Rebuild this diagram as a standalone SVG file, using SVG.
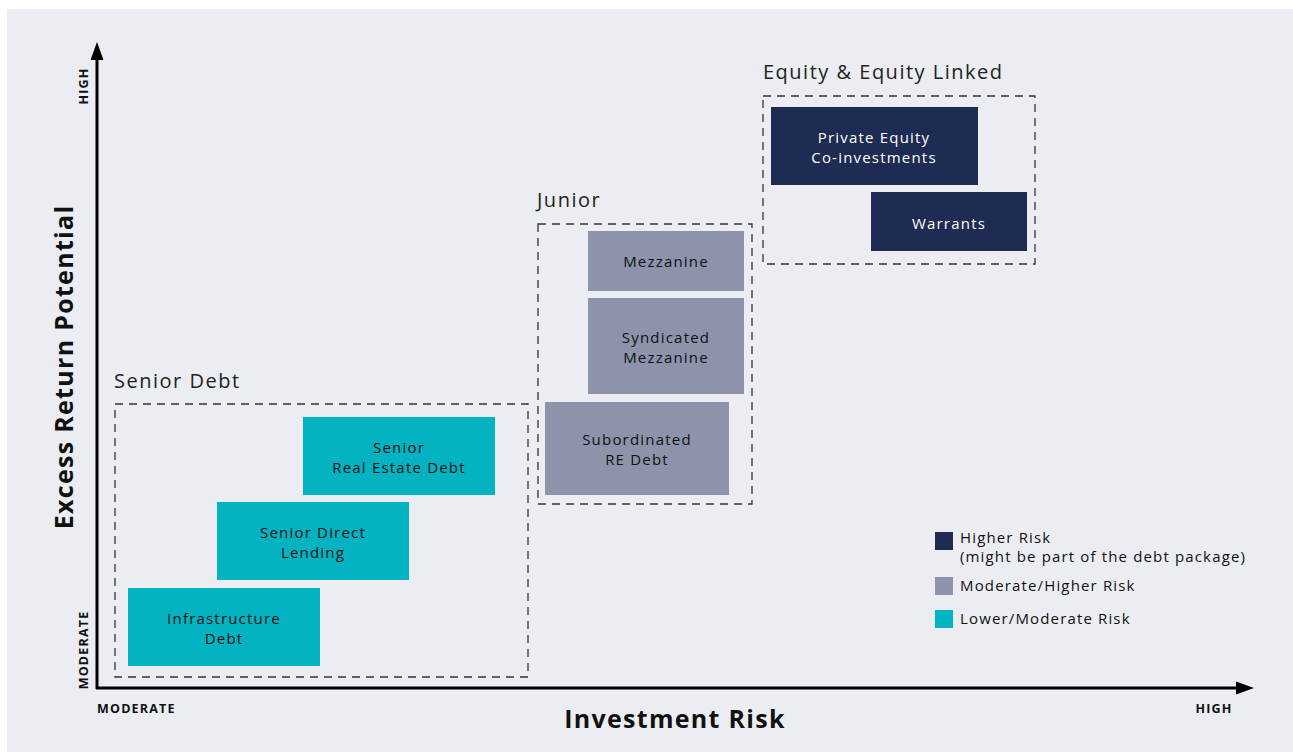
<svg xmlns="http://www.w3.org/2000/svg" width="1293" height="752" viewBox="0 0 1293 752">
<defs>
<style>
.bg{fill:#ECEDF2}
.grp{fill:none;stroke:#333;stroke-width:1.3;stroke-dasharray:8 6}
.glabel{font-family:"Open Sans",sans-serif;font-size:20px;fill:#222;font-weight:400;letter-spacing:1.5px}
.teal{fill:#03B3C2}
.grey{fill:#8D93AA}
.navy{fill:#1E2B52}
.t{font-family:"Open Sans",sans-serif;font-size:15px;fill:#111;text-anchor:middle;letter-spacing:1.2px}
.tw{font-family:"Open Sans",sans-serif;font-size:15px;fill:#fff;text-anchor:middle;letter-spacing:1.2px}
.ax{stroke:#000;stroke-width:3;fill:none}
.axl{font-family:"Open Sans",sans-serif;font-size:12.5px;font-weight:700;fill:#111;letter-spacing:1.2px}
.title{font-family:"Open Sans",sans-serif;font-size:25px;font-weight:700;fill:#111;text-anchor:middle;letter-spacing:1.3px}
.lg{font-family:"Open Sans",sans-serif;font-size:15px;fill:#111;letter-spacing:1.15px}
</style>
</defs>
<rect x="0" y="0" width="1293" height="752" fill="#fff"/>
<rect class="bg" x="7" y="9" width="1286" height="743"/>

<g id="connectors">
<line class="ax" x1="97" y1="689" x2="97" y2="58"/>
<polygon points="97,42 90.5,60 103.5,60" fill="#000"/>
<line class="ax" x1="96" y1="688" x2="1237" y2="688"/>
<polygon points="1254,688 1236,681.5 1236,694.5" fill="#000"/>
</g>

<g id="axis-labels">
<text class="axl" transform="translate(88,86) rotate(-90)" text-anchor="middle">HIGH</text>
<text class="axl" transform="translate(88,650) rotate(-90)" text-anchor="middle">MODERATE</text>
<text class="axl" x="97" y="713">MODERATE</text>
<text class="axl" x="1214" y="713" text-anchor="middle">HIGH</text>
<text class="title" x="675" y="728">Investment Risk</text>
<text class="title" transform="translate(73,367) rotate(-90)">Excess Return Potential</text>
</g>

<g id="senior-debt">
<text class="glabel" x="114" y="388">Senior Debt</text>
<rect class="grp" x="115" y="404" width="413" height="273"/>
</g>
<g id="senior-re-debt">
<rect class="teal" x="303" y="417" width="192" height="78"/>
<text class="t" x="399" y="453">Senior</text>
<text class="t" x="399" y="473">Real Estate Debt</text>
</g>
<g id="senior-direct-lending">
<rect class="teal" x="217" y="502" width="192" height="78"/>
<text class="t" x="313" y="538">Senior Direct</text>
<text class="t" x="313" y="558">Lending</text>
</g>
<g id="infrastructure-debt">
<rect class="teal" x="128" y="588" width="192" height="78"/>
<text class="t" x="224" y="624">Infrastructure</text>
<text class="t" x="224" y="644">Debt</text>
</g>

<g id="junior">
<text class="glabel" x="537" y="207">Junior</text>
<rect class="grp" x="538" y="224" width="214" height="280"/>
</g>
<g id="mezzanine">
<rect class="grey" x="588" y="231" width="156" height="60"/>
<text class="t" x="666" y="267">Mezzanine</text>
</g>
<g id="syndicated-mezzanine">
<rect class="grey" x="588" y="298" width="156" height="96"/>
<text class="t" x="666" y="343">Syndicated</text>
<text class="t" x="666" y="363">Mezzanine</text>
</g>
<g id="subordinated-re-debt">
<rect class="grey" x="545" y="402" width="184" height="93"/>
<text class="t" x="637" y="445">Subordinated</text>
<text class="t" x="637" y="465">RE Debt</text>
</g>

<g id="equity">
<text class="glabel" x="763" y="79">Equity &amp; Equity Linked</text>
<rect class="grp" x="763" y="96" width="272" height="168"/>
</g>
<g id="private-equity">
<rect class="navy" x="771" y="107" width="207" height="78"/>
<text class="tw" x="874" y="143">Private Equity</text>
<text class="tw" x="874" y="163">Co-investments</text>
</g>
<g id="warrants">
<rect class="navy" x="871" y="192" width="156" height="59"/>
<text class="tw" x="949" y="229">Warrants</text>
</g>

<g id="legend">
<rect class="navy" x="935" y="532" width="18" height="18"/>
<text class="lg" x="960" y="543">Higher Risk</text>
<text class="lg" x="960" y="562">(might be part of the debt package)</text>
<rect class="grey" x="935" y="577" width="18" height="18"/>
<text class="lg" x="960" y="591">Moderate/Higher Risk</text>
<rect class="teal" x="935" y="610" width="18" height="18"/>
<text class="lg" x="960" y="624">Lower/Moderate Risk</text>
</g>
</svg>
